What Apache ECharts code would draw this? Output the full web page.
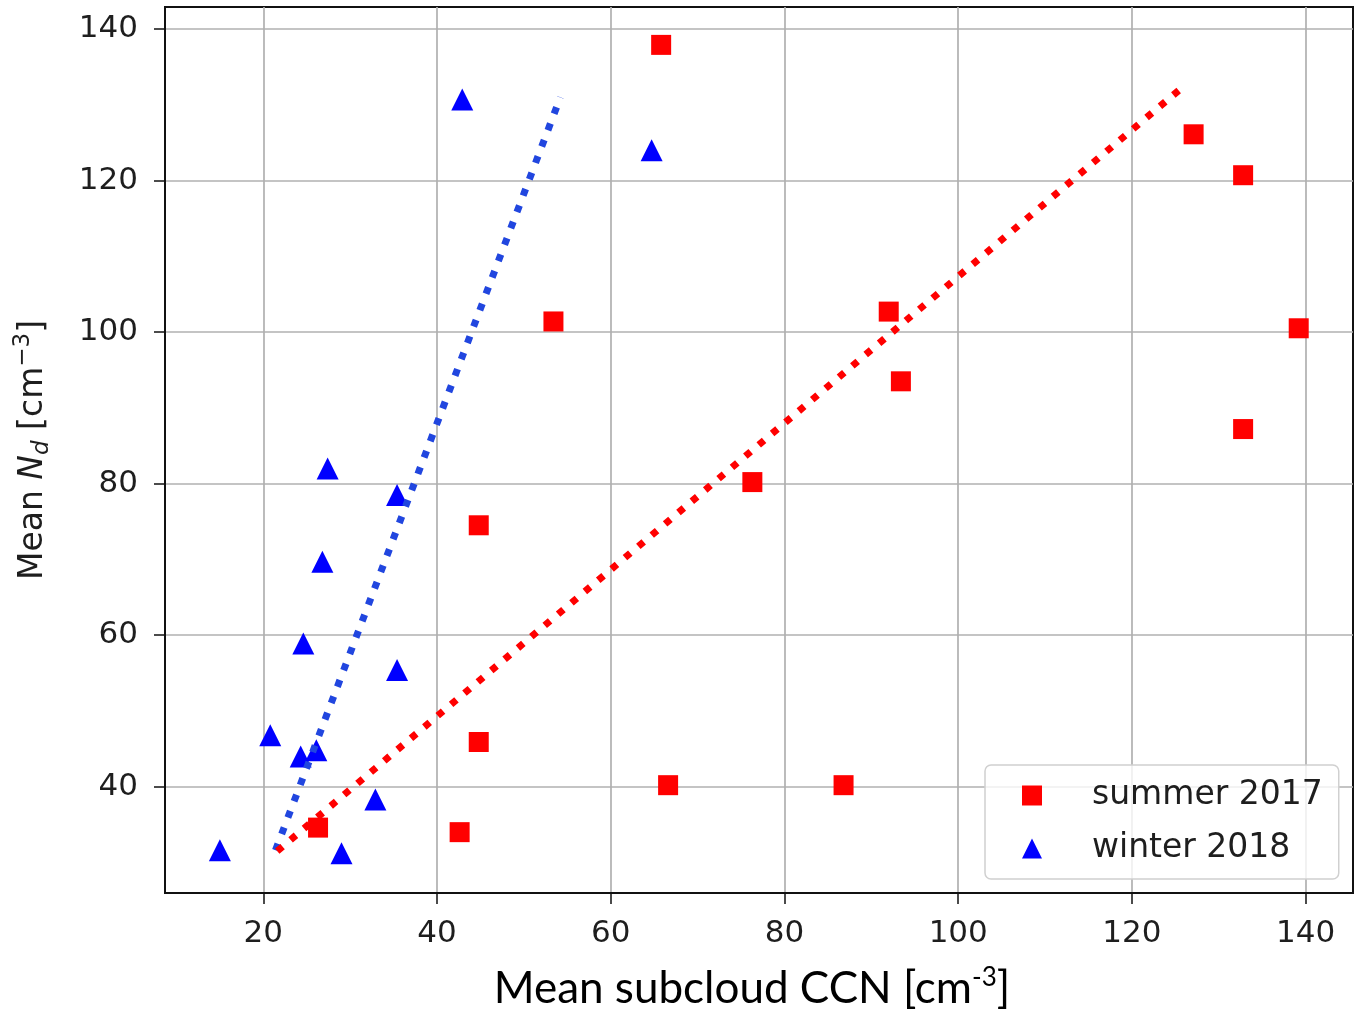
<!DOCTYPE html>
<html>
<head>
<meta charset="utf-8">
<script src="https://cdn.jsdelivr.net/npm/echarts@6/dist/echarts.min.js"></script>
<style>
  html, body { margin: 0; padding: 0; background: #ffffff; }
  #chart { width: 1355px; height: 1020px; }
</style>
</head>
<body>
<div id="chart"></div>
<script>
// Mean subcloud CCN vs. mean droplet number, two campaigns
const summerCCN = [65.8, 53.4, 127.1, 132.8, 139.2, 132.8, 92.0, 93.4, 76.3, 44.8, 44.8, 66.6, 86.8, 42.6, 26.3];
const summerNd  = [137.9, 101.4, 126.1, 120.7, 100.5, 87.2, 102.7, 93.5, 80.2, 74.5, 45.9, 40.2, 40.2, 34.0, 34.6];

const winterCCN = [27.4, 35.4, 26.8, 24.6, 35.4, 20.8, 24.3, 26.1, 32.9, 15.0, 29.0, 42.9, 64.7];
const winterNd  = [82.0, 78.5, 69.7, 58.9, 55.4, 46.8, 44.0, 44.8, 38.3, 31.6, 31.2, 130.7, 124.0];

// Linear fit segments (end points)
const winterFitCCN = [21.4, 54.2];
const winterFitNd  = [31.6, 131.0];
const summerFitCCN = [21.6, 125.5];
const summerFitNd  = [31.5, 132.0];

const xTicks = [20, 40, 60, 80, 100, 120, 140];
const yTicks = [40, 60, 80, 100, 120, 140];

const seriesNames = ['summer 2017', 'winter 2018'];

const zip = (xs, ys) => xs.map((x, i) => [x, ys[i]]);

const tickFont = 'DejaVu Sans, Noto Sans, sans-serif';
const inkColor = '#1e1e1e';

const chart = echarts.init(document.getElementById('chart'), null, { renderer: 'canvas' });

chart.setOption({
  animation: false,
  backgroundColor: '#ffffff',
  grid: {
    left: 165, top: 7, width: 1188, height: 886,
    show: true, borderColor: '#111111', borderWidth: 2,
    containLabel: false, outerBoundsMode: 'none'
  },
  legend: {
    orient: 'vertical',
    left: 985, top: 765,
    padding: [14, 16, 14, 37],
    itemGap: 20,
    itemWidth: 20, itemHeight: 20,
    backgroundColor: 'rgba(255,255,255,0.8)',
    borderColor: '#d0d0d0', borderWidth: 1.5, borderRadius: 6,
    textStyle: { fontFamily: tickFont, fontSize: 33, color: inkColor, padding: [0, 0, 0, 45] },
    data: [
      { name: seriesNames[0], icon: 'rect' },
      { name: seriesNames[1], icon: 'triangle' }
    ]
  },
  xAxis: {
    type: 'value',
    min: 8.68, max: 145.45,
    name: 'Mean subcloud CCN [cm{sup|-3}]',
    nameLocation: 'middle',
    nameGap: 72,
    nameTextStyle: {
      fontFamily: 'Lato, Open Sans, sans-serif', fontSize: 44, color: '#000000',
      lineHeight: 48, padding: [0, 14, 0, 0],
      rich: { sup: { fontFamily: 'Lato, Open Sans, sans-serif', fontSize: 26, lineHeight: 26, verticalAlign: 'top', color: '#000000' } }
    },
    axisLine: { show: true, onZero: false, lineStyle: { color: '#111111', width: 2 } },
    axisTick: { show: true, length: 11, customValues: xTicks, lineStyle: { color: '#111111', width: 1.5 } },
    axisLabel: { customValues: xTicks, margin: 25, fontFamily: tickFont, fontSize: 31, color: inkColor },
    splitLine: { show: true, lineStyle: { color: '#b0b0b0', width: 1.7 } }
  },
  yAxis: {
    type: 'value',
    min: 25.97, max: 142.9,
    name: 'Mean {i|N}{sub|d} [cm{sup|\u22123}]',
    nameLocation: 'middle',
    nameGap: 111,
    nameTextStyle: {
      fontFamily: tickFont, fontSize: 33, color: inkColor, lineHeight: 42,
      rich: {
        i:   { fontFamily: tickFont, fontSize: 33, fontStyle: 'italic', color: inkColor, lineHeight: 42 },
        sub: { fontFamily: tickFont, fontSize: 23, fontStyle: 'italic', color: inkColor, lineHeight: 23, verticalAlign: 'bottom' },
        sup: { fontFamily: tickFont, fontSize: 23, color: inkColor, lineHeight: 23, verticalAlign: 'top' }
      }
    },
    axisLine: { show: true, onZero: false, lineStyle: { color: '#111111', width: 2 } },
    axisTick: { show: true, length: 11, customValues: yTicks, lineStyle: { color: '#111111', width: 1.5 } },
    axisLabel: { customValues: yTicks, margin: 27, fontFamily: tickFont, fontSize: 31, color: inkColor },
    splitLine: { show: true, lineStyle: { color: '#b0b0b0', width: 1.7 } }
  },
  series: [
    {
      name: seriesNames[0], type: 'scatter',
      symbol: 'rect', symbolSize: 20,
      itemStyle: { color: '#ff0000', opacity: 1 },
      data: zip(summerCCN, summerNd), z: 2
    },
    {
      name: seriesNames[1], type: 'scatter',
      symbol: 'triangle', symbolSize: 22,
      itemStyle: { color: '#0000ff', opacity: 1 },
      data: zip(winterCCN, winterNd), z: 2
    },
    {
      name: 'winter fit', type: 'line', silent: true,
      symbol: 'none', showSymbol: false,
      lineStyle: { color: '#2146df', width: 7, type: [7, 10.5], cap: 'butt' },
      data: zip(winterFitCCN, winterFitNd), z: 3
    },
    {
      name: 'summer fit', type: 'line', silent: true,
      symbol: 'none', showSymbol: false,
      lineStyle: { color: '#ff0000', width: 7, type: [7, 10.5], cap: 'butt' },
      data: zip(summerFitCCN, summerFitNd), z: 4
    }
  ]
});
</script>
</body>
</html>
